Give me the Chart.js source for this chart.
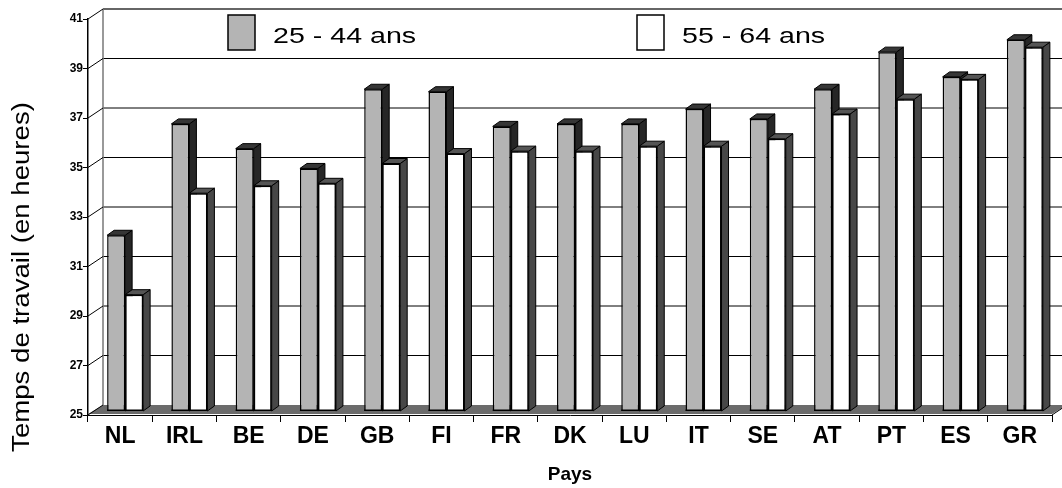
<!DOCTYPE html>
<html>
<head>
<meta charset="utf-8">
<script src="https://cdn.jsdelivr.net/npm/chart.js@4.4.1/dist/chart.umd.min.js"></script>
<style>
    html, body { margin: 0; padding: 0; background: #fff; }
    #wrap { width: 1062px; height: 488px; }
</style>
</head>
<body>
<div id="wrap"><canvas id="chart"></canvas></div>
<script>
let countries = ['NL', 'IRL', 'BE', 'DE', 'GB', 'FI', 'FR', 'DK', 'LU', 'IT', 'SE', 'AT', 'PT', 'ES', 'GR'];
let hoursYoung = [32.1, 36.6, 35.6, 34.8, 38.0, 37.9, 36.5, 36.6, 36.6, 37.2, 36.8, 38.0, 39.5, 38.5, 40.0];
let hoursOld = [29.7, 33.8, 34.1, 34.2, 35.0, 35.4, 35.5, 35.5, 35.7, 35.7, 36.0, 37.0, 37.6, 38.4, 39.7];
let seriesNames = ['25 - 44 ans', '55 - 64 ans'];
let yMin = 25, yMax = 41, yStep = 2;

const FONT = '"Liberation Sans", Arial, Helvetica, sans-serif';
// offsets of the fake 3d box
const WALL_DX = 15, WALL_DY = -10;   // back wall vs front axes
const BAR_DX = 5, BAR_DY = -4;       // bar plane vs front axes
const FACE_DX = 7, FACE_DY = -5;     // bar depth
let sideColors = ['#262626', '#474747'];
let topColors = ['#363636', '#555555'];

function drawFaces(ctx, bar, floorY, i) {
    let p = bar.getProps(['x', 'y', 'base', 'width'], true);
    let l = p.x - p.width / 2, r = p.x + p.width / 2;
    let base = Math.min(p.base, floorY);
    ctx.strokeStyle = '#000';
    ctx.lineWidth = 1;
    // side
    ctx.fillStyle = sideColors[i];
    ctx.beginPath();
    ctx.moveTo(r, p.y);
    ctx.lineTo(r + FACE_DX, p.y + FACE_DY);
    ctx.lineTo(r + FACE_DX, base + FACE_DY);
    ctx.lineTo(r, base);
    ctx.closePath();
    ctx.fill();
    ctx.stroke();
    // top
    ctx.fillStyle = topColors[i];
    ctx.beginPath();
    ctx.moveTo(l, p.y);
    ctx.lineTo(l + FACE_DX, p.y + FACE_DY);
    ctx.lineTo(r + FACE_DX, p.y + FACE_DY);
    ctx.lineTo(r, p.y);
    ctx.closePath();
    ctx.fill();
    ctx.stroke();
    // bottom edge of the front face
    ctx.lineWidth = 1.5;
    ctx.beginPath();
    ctx.moveTo(l, base - 0.75);
    ctx.lineTo(r, base - 0.75);
    ctx.stroke();
}

let box3d = {
    id: 'box3d',
    beforeDatasetsDraw(chart) {
        let ctx = chart.ctx, area = chart.chartArea, y = chart.scales.y;
        ctx.save();
        // gridlines on back wall
        y.ticks.forEach(t => {
            let py = y.getPixelForValue(t.value);
            if (t.value === yMin) return;
            ctx.beginPath();
            if (t.value === yMax) {
                ctx.strokeStyle = '#666';
                ctx.lineWidth = 2;
            } else {
                ctx.strokeStyle = '#000';
                ctx.lineWidth = 1;
            }
            ctx.moveTo(area.left + WALL_DX, py + WALL_DY);
            ctx.lineTo(area.right + WALL_DX, py + WALL_DY);
            ctx.stroke();
        });
        // back wall left edge
        ctx.strokeStyle = '#777';
        ctx.lineWidth = 1.5;
        ctx.beginPath();
        ctx.moveTo(area.left + WALL_DX, area.top + WALL_DY);
        ctx.lineTo(area.left + WALL_DX, area.bottom + WALL_DY);
        ctx.stroke();
        // floor
        ctx.fillStyle = '#6b6b6b';
        ctx.beginPath();
        ctx.moveTo(area.left, area.bottom - 1);
        ctx.lineTo(area.right, area.bottom - 1);
        ctx.lineTo(area.right + WALL_DX, area.bottom + WALL_DY);
        ctx.lineTo(area.left + WALL_DX, area.bottom + WALL_DY);
        ctx.closePath();
        ctx.fill();
        // diagonals from front ticks to back wall
        ctx.strokeStyle = '#000';
        ctx.lineWidth = 1;
        y.ticks.forEach(t => {
            let py = y.getPixelForValue(t.value);
            ctx.beginPath();
            ctx.moveTo(area.left, py);
            ctx.lineTo(area.left + WALL_DX, py + WALL_DY);
            ctx.stroke();
        });
        ctx.beginPath();
        ctx.moveTo(area.right, area.bottom);
        ctx.lineTo(area.right + WALL_DX, area.bottom + WALL_DY);
        ctx.stroke();
        ctx.restore();

        // bars sit a bit deeper than the front axes
        ctx.save();
        ctx.translate(BAR_DX, BAR_DY);
    },
    afterDatasetsDraw(chart) {
        let ctx = chart.ctx, area = chart.chartArea;
        let floorY = chart.scales.y.getPixelForValue(yMin);
        let grey = chart.getDatasetMeta(0).data;
        let white = chart.getDatasetMeta(1).data;
        // per category: grey faces, then the white bar again on top, then its faces
        grey.forEach((bar, k) => {
            ctx.save();
            drawFaces(ctx, bar, floorY, 0);
            ctx.beginPath();
            ctx.rect(area.left, area.top - 20, area.right - area.left, area.bottom - area.top + 20);
            ctx.clip();
            white[k].draw(ctx);
            ctx.restore();
            ctx.save();
            drawFaces(ctx, white[k], floorY, 1);
            ctx.restore();
        });
        ctx.restore();
    },
    afterDraw(chart) {
        let ctx = chart.ctx;
        ctx.save();
        // legend inside the top band of the back wall
        let legendX = [228, 637];
        chart.data.datasets.forEach((ds, i) => {
            ctx.fillStyle = ds.backgroundColor;
            ctx.fillRect(legendX[i], 15, 27, 35);
            ctx.strokeStyle = '#000';
            ctx.lineWidth = 1.5;
            ctx.strokeRect(legendX[i], 15, 27, 35);
            ctx.save();
            ctx.translate(legendX[i] + 45, 43);
            ctx.scale(1.3, 1);
            ctx.fillStyle = '#000';
            ctx.font = '22px ' + FONT;
            ctx.textBaseline = 'alphabetic';
            ctx.fillText(ds.label, 0, 0);
            ctx.restore();
        });
        // y axis title
        ctx.translate(23, 277);
        ctx.rotate(-Math.PI / 2);
        ctx.scale(1.2, 1);
        ctx.fillStyle = '#000';
        ctx.font = '23px ' + FONT;
        ctx.textAlign = 'center';
        ctx.textBaseline = 'middle';
        ctx.fillText('Temps de travail (en heures)', 0, 0);
        ctx.restore();
    }
};

let canvas = document.getElementById('chart');
let chart = new Chart(canvas, {
    type: 'bar',
    data: {
        labels: countries,
        datasets: [{
            label: seriesNames[0],
            data: hoursYoung,
            backgroundColor: '#b4b4b4',
            borderColor: '#000',
            borderWidth: 1.5,
            borderSkipped: false
        }, {
            label: seriesNames[1],
            data: hoursOld,
            backgroundColor: '#ffffff',
            borderColor: '#000',
            borderWidth: 1.5,
            borderSkipped: false
        }]
    },
    options: {
        responsive: true,
        maintainAspectRatio: false,
        animation: false,
        devicePixelRatio: 1,
        layout: { padding: { top: 19, right: 10, left: 0, bottom: 0 } },
        datasets: {
            bar: { categoryPercentage: 0.56, barPercentage: 1 }
        },
        plugins: {
            legend: { display: false },
            tooltip: { enabled: false }
        },
        scales: {
            x: {
                grid: { drawOnChartArea: false, drawTicks: true, tickLength: 7, color: '#000', offset: true },
                border: { display: true, color: '#000', width: 1 },
                ticks: {
                    color: '#000',
                    font: { family: FONT, size: 23, weight: 'bold' },
                    maxRotation: 0,
                    autoSkip: false,
                    padding: 1
                },
                title: {
                    display: true,
                    text: 'Pays',
                    color: '#000',
                    font: { family: FONT, size: 19, weight: 'bold' },
                    padding: { top: 0, bottom: 2 }
                },
                afterFit(scale) { scale.height = 73; }
            },
            y: {
                min: yMin,
                max: yMax,
                ticks: {
                    stepSize: yStep,
                    color: '#000',
                    font: { family: FONT, size: 12, weight: 'bold' },
                    padding: 0
                },
                grid: { drawOnChartArea: false, drawTicks: true, tickLength: 5, color: '#000' },
                border: { display: true, color: '#000', width: 1.5 },
                afterFit(scale) { scale.width = 88; }
            }
        }
    },
    plugins: [box3d]
});
</script>
</body>
</html>
